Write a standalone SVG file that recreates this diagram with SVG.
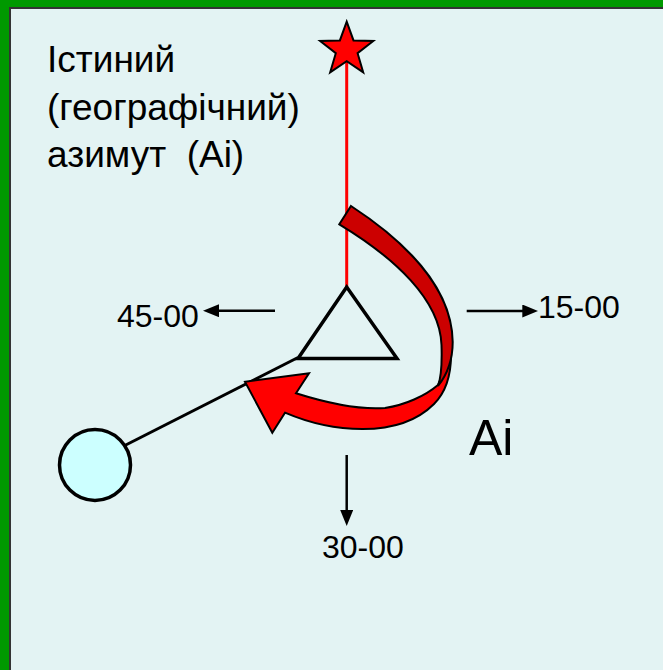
<svg xmlns="http://www.w3.org/2000/svg" width="663" height="670" viewBox="0 0 663 670">
<style>
.lbl{font-family:"Liberation Sans",Arial,sans-serif;fill:#000}
.big{font-size:37px}
.dir{font-size:32px}
.ln{stroke:#000;stroke-width:2.5;fill:none}
.ol{stroke:#000;stroke-width:2;stroke-linejoin:miter}
</style>
<defs>
<marker id="ah" viewBox="0 0 16 13" refX="8" refY="6.5" markerWidth="16" markerHeight="13" markerUnits="userSpaceOnUse" orient="auto">
<path d="M0,0 L16,6.5 L0,13 Z" fill="#000"/>
</marker>
</defs>
<rect x="0" y="0" width="663" height="670" fill="#009900"/>
<rect x="10" y="8" width="670" height="680" fill="#E3F3F3" stroke="#333" stroke-width="2"/>

<g id="connectors">
<line id="north-line" x1="346.7" y1="62" x2="346.7" y2="288" stroke="#FF0000" stroke-width="3"/>
<line id="target-line" x1="298" y1="357.5" x2="110" y2="453" stroke="#000" stroke-width="3"/>
<line id="arrow-45" class="ln" x1="275" y1="310.7" x2="211" y2="310.7" marker-end="url(#ah)"/>
<line id="arrow-15" class="ln" x1="466.7" y1="311" x2="530.3" y2="311" marker-end="url(#ah)"/>
<line id="arrow-30" class="ln" x1="346.7" y1="455" x2="346.7" y2="518" marker-end="url(#ah)"/>
</g>

<g id="star">
<polygon class="ol" fill="#FF0000" points="346.7,21.7 353.5,40.4 373.3,41.0 357.6,53.2 363.2,72.3 346.7,61.2 330.2,72.3 335.8,53.2 320.1,41.0 339.9,40.4"/>
</g>

<g id="triangle">
<polygon points="346.7,287 298,358.5 397,358.5" fill="none" stroke="#000" stroke-width="3.5" stroke-linejoin="miter"/>
</g>

<g id="circle">
<circle cx="95" cy="465" r="35.5" fill="#CCFFFF" stroke="#000" stroke-width="3.5"/>
</g>

<g id="azimuth-arrow">
<path class="ol" fill="#FF0000" d="M296,393.3 L309,373.3 L245,381.7 L272.3,432.7 L285,412.7 C330,432 398,440 434,404 C446,392 451,375 451,355 L438,385 C425,396 405,405 385,408 C360,410 330,404 296,393.3 Z"/>
<path class="ol" fill="#CC0000" d="M339.3,224.3 L351,206 C400,238 452,285 452.7,342 C452.7,362 446,376 438,386 C441,378 442,360 441.5,345 C440,300 395,258 339.3,224.3 Z"/>
</g>

<g id="title-label">
<text class="lbl big" x="47" y="72">Істиний</text>
<text class="lbl big" x="47" y="120">(географічний)</text>
<text class="lbl big" x="47" y="167" xml:space="preserve">азимут  (Ai)</text>
</g>
<g id="label-45"><text class="lbl dir" x="117" y="327">45-00</text></g>
<g id="label-15"><text class="lbl dir" x="538" y="318">15-00</text></g>
<g id="label-30"><text class="lbl dir" x="322" y="558">30-00</text></g>
<g id="label-ai"><text class="lbl" style="font-size:50px" x="469" y="455">Ai</text></g>
</svg>
